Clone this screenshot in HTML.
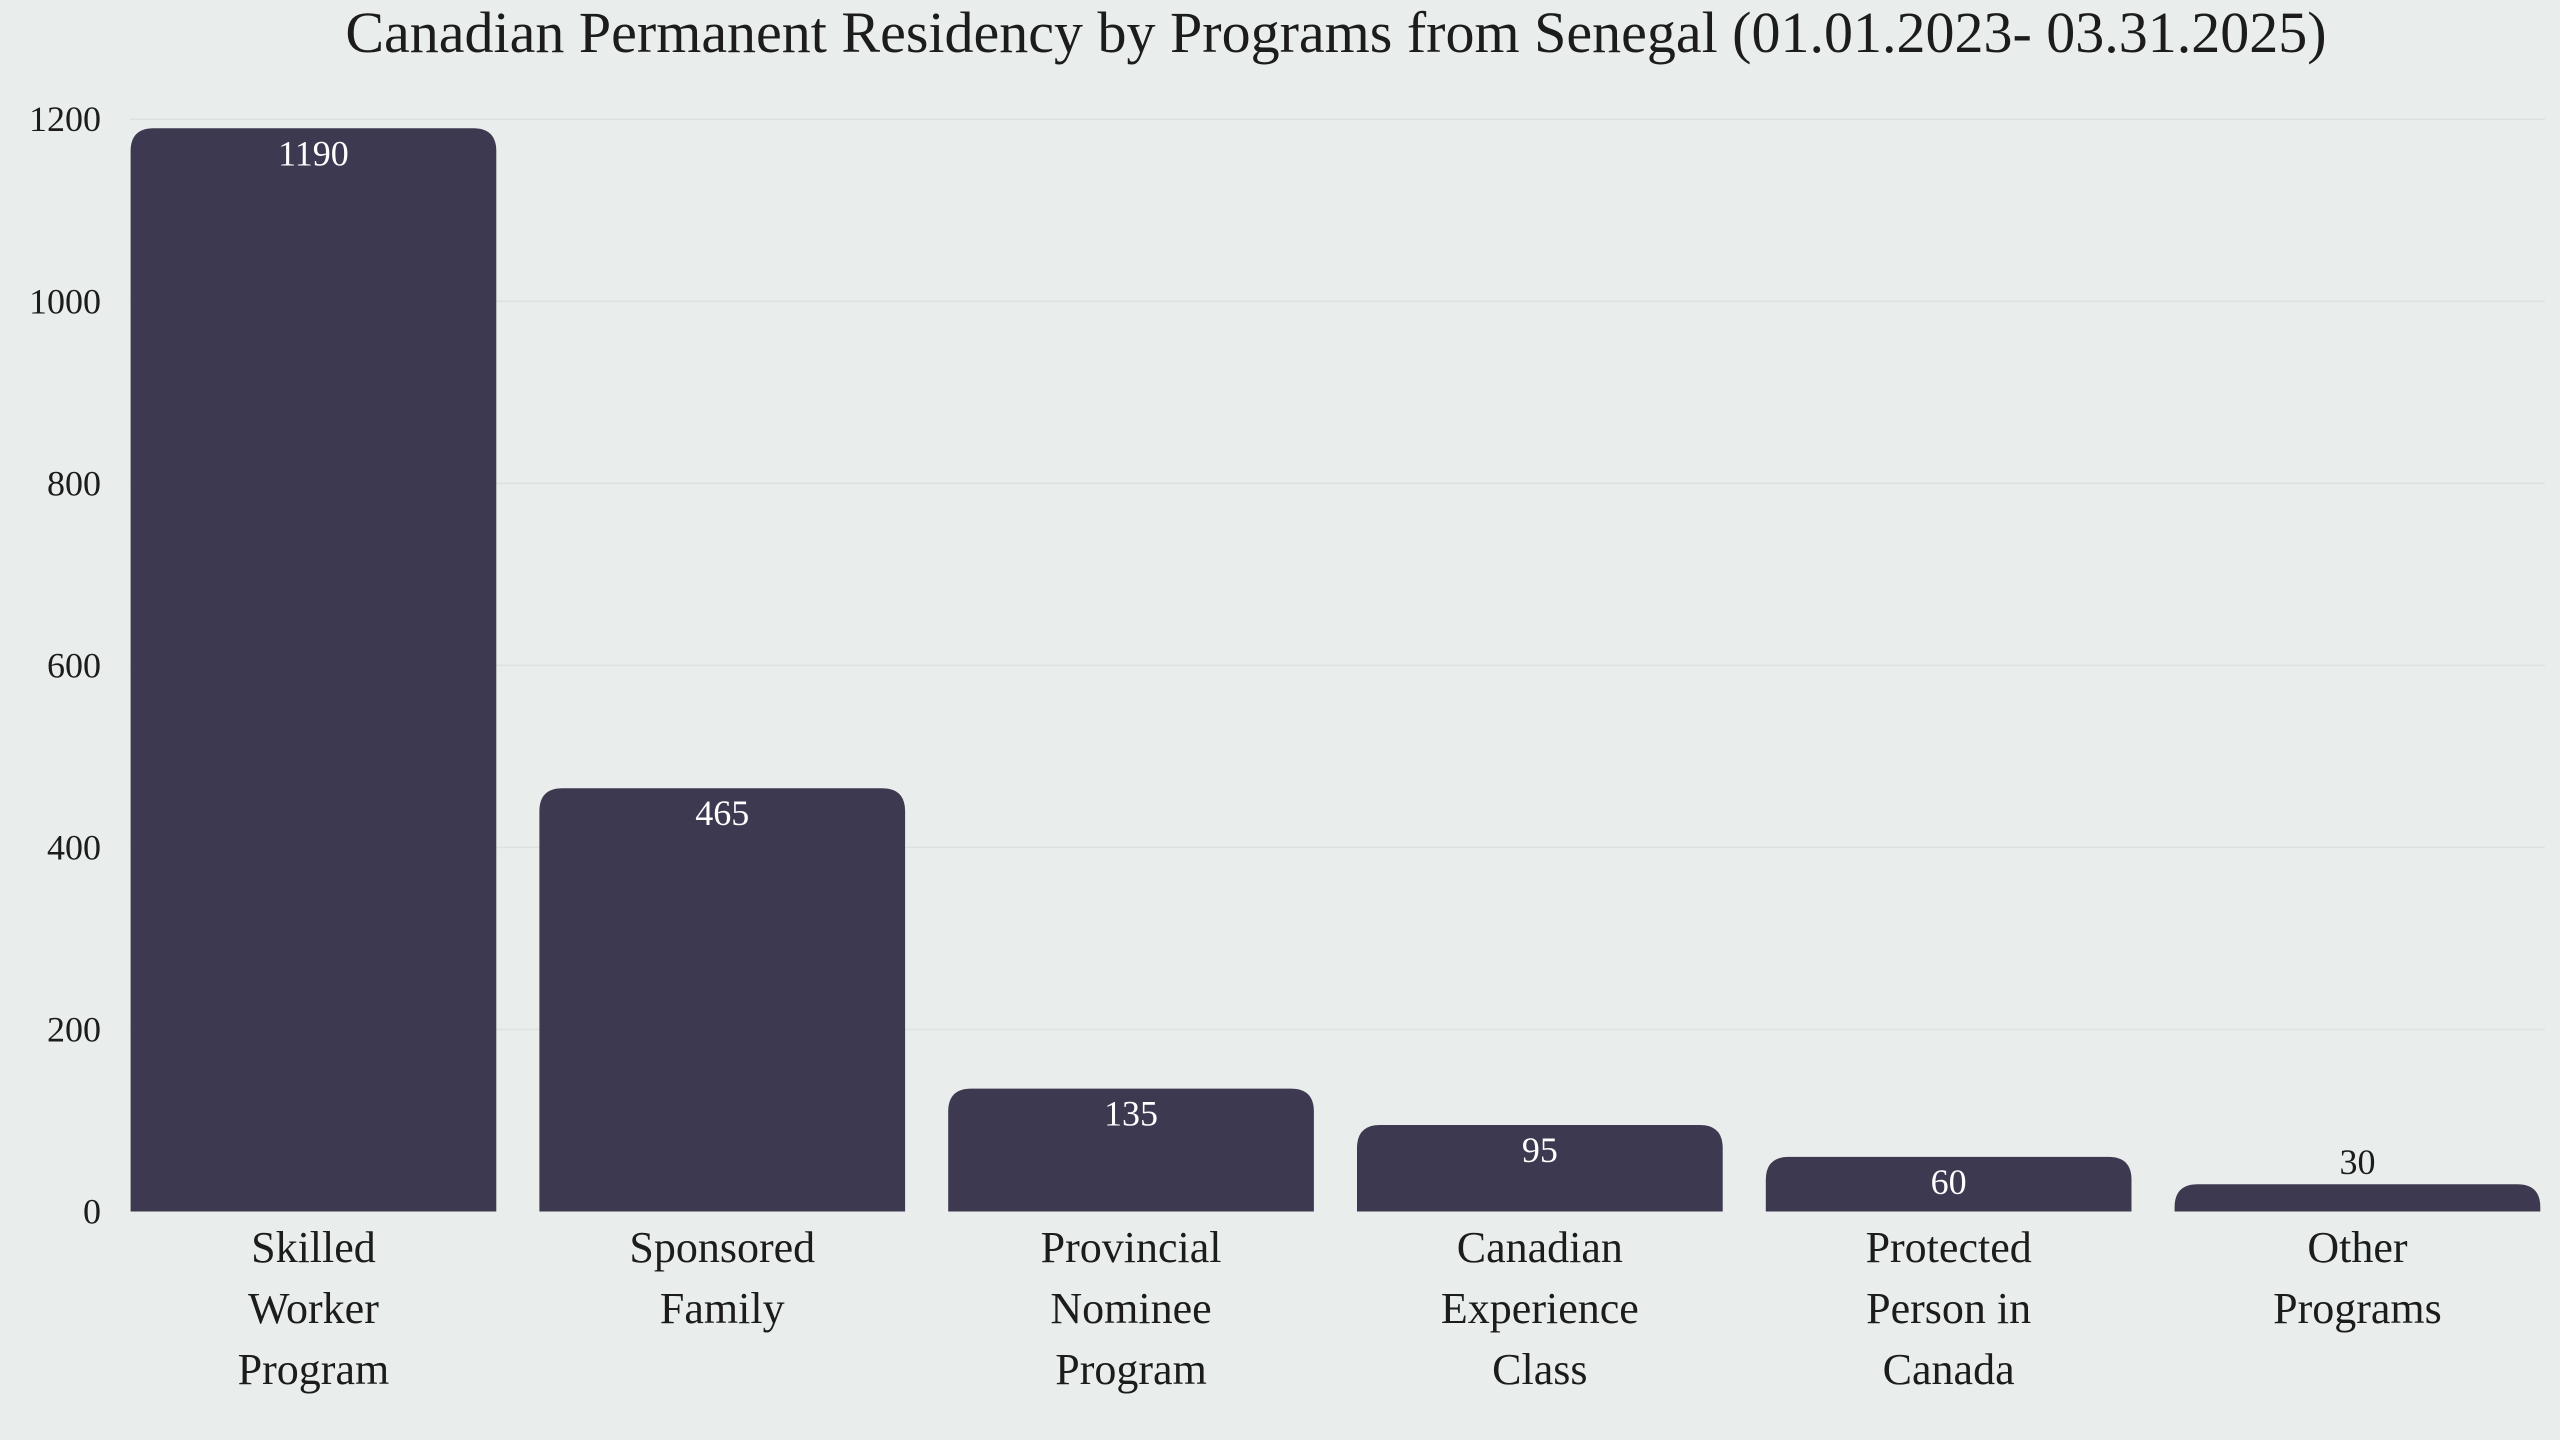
<!DOCTYPE html>
<html><head><meta charset="utf-8"><style>
html,body{margin:0;padding:0;background:#e9eeec;}
svg{display:block;font-family:"Liberation Serif",serif;}
</style></head><body>
<svg id="chart" width="2560" height="1440" viewBox="0 0 2560 1440" xmlns="http://www.w3.org/2000/svg">
<rect width="2560" height="1440" fill="#e9eeec"/>
<text x="1336" y="52" text-anchor="middle" font-size="58" fill="#1c1c1c">Canadian Permanent Residency by Programs from Senegal (01.01.2023- 03.31.2025)</text>
<g id="grid"></g><g id="bars"></g><g id="labels"></g>
</svg>
<script>
const categories = [["Skilled","Worker","Program"],["Sponsored","Family"],["Provincial","Nominee","Program"],["Canadian","Experience","Class"],["Protected","Person in","Canada"],["Other","Programs"]];
const values = [1190,465,135,95,60,30];
const yTicks = [0,200,400,600,800,1000,1200];
const NS="http://www.w3.org/2000/svg";
const y0=1211.5, yTop=119.2, yMax=1200;
const plotL=130.6, step=408.8, barW=365.7;
function yScale(v){return y0-(v/yMax)*(y0-yTop);}
function xScale(i){return plotL+i*step;}
function mk(tag,attrs,parent){const e=document.createElementNS(NS,tag);for(const k in attrs)e.setAttribute(k,attrs[k]);parent.appendChild(e);return e;}
const grid=document.getElementById('grid'),bars=document.getElementById('bars'),labels=document.getElementById('labels');
yTicks.forEach(t=>{
  const y=yScale(t);
  if(t>0){const l=mk('line',{x1:130,x2:2545,y1:y,y2:y,stroke:'#dde2e0','stroke-width':1.5},grid);
  
  }
  const tx=mk('text',{x:101,y:y+12,'text-anchor':'end','font-size':36,fill:'#1c1c1c'},grid);
  
  
  tx.textContent=t;
});
values.forEach((v,i)=>{
  const x=xScale(i),y=yScale(v),h=y0-y,r=Math.min(23,h);
  const p=mk('path',{d:`M${x},${y0} L${x},${y+r} Q${x},${y} ${x+r},${y} L${x+barW-r},${y} Q${x+barW},${y} ${x+barW},${y+r} L${x+barW},${y0} Z`,fill:'#3d3950'},bars);
  
  
  const cx=x+barW/2;
  const inside=h>45;
  const vt=mk('text',{x:cx,y:inside?y+37:y-10,'text-anchor':'middle','font-size':36,fill:inside?'#ffffff':'#1c1c1c'},labels);
  
  
  vt.textContent=v;
  const ct=mk('text',{x:cx,y:1262,'text-anchor':'middle','font-size':44,fill:'#1c1c1c'},labels);
  
  
  categories[i].forEach((line,j)=>{const ts=mk('tspan',{x:cx,dy:j?61:0},ct);ts.textContent=line;});
});
</script>
</body></html>
